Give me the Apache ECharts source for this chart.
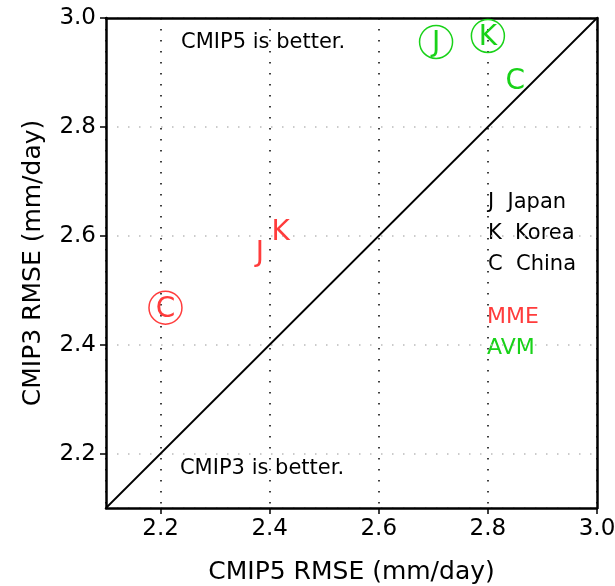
<!DOCTYPE html>
<html>
<head>
<meta charset="utf-8">
<script src="https://cdn.jsdelivr.net/npm/echarts@6/dist/echarts.min.js"></script>
<style>
  html, body { margin: 0; padding: 0; background: #fff; }
  #chart { width: 615px; height: 586px; }
</style>
</head>
<body>
<div id="chart"></div>
<script>
  // letters: J Japan, K Korea, C China
  var letters = ['J', 'K', 'C'];
  // MME (red): [CMIP5, CMIP3]
  var mmeX = [2.382, 2.42, 2.209];
  var mmeY = [2.571, 2.609, 2.468];
  var mmeCircled = [false, false, true];
  // AVM (green)
  var avmX = [2.705, 2.80, 2.85];
  var avmY = [2.956, 2.967, 2.886];
  var avmCircled = [true, true, false];
  // one-to-one line
  var diagonal = [[2.1, 2.1], [3.0, 3.0]];
  var legendRows = ['J  Japan', 'K  Korea', 'C  China'];

  var RED = '#ff3c3c', GREEN = '#19d219';
  var FONT = 'DejaVu Sans';

  function points(xs, ys, circled, color) {
    return xs.map(function (x, i) {
      return {
        value: [x, ys[i], letters[i]],
        symbolSize: circled[i] ? 33 : 0,
        itemStyle: {color: 'rgba(0,0,0,0)', borderColor: color, borderWidth: circled[i] ? 1.5 : 0, opacity: 1}
      };
    });
  }

  function markerSeries(name, xs, ys, circled, color) {
    return {
      name: name,
      type: 'scatter',
      symbol: 'circle',
      data: points(xs, ys, circled, color),
      itemStyle: {opacity: 1},
      label: {
        show: true,
        position: 'inside',
        offset: [0, 2],
        formatter: function (p) { return p.value[2]; },
        color: color,
        fontFamily: FONT,
        fontSize: 28
      },
      z: 5
    };
  }

  function noteSeries(text, x, y) {
    return {
      type: 'scatter',
      symbolSize: 0,
      data: [[x, y]],
      itemStyle: {opacity: 1},
      label: {
        show: true,
        position: 'inside',
        formatter: text,
        color: '#000',
        fontFamily: FONT,
        fontSize: 21
      },
      silent: true
    };
  }

  // plain frame axes for top / right
  function frameAxis(pos) {
    return {
      type: 'value', position: pos, min: 2.1, max: 3.0,
      axisLine: {show: true, lineStyle: {color: '#000', width: 2.5}},
      axisTick: {show: false}, axisLabel: {show: false}, splitLine: {show: false}
    };
  }

  var tickLabel = {
    showMinLabel: false,
    margin: 10,
    fontFamily: FONT, fontSize: 23, color: '#000',
    formatter: function (v) { return v.toFixed(1); }
  };

  var chart = echarts.init(document.getElementById('chart'));
  chart.setOption({
    animation: false,
    backgroundColor: '#fff',
    grid: {left: 106, right: 18, top: 18, bottom: 78, outerBoundsMode: 'none'},
    xAxis: [{
      type: 'value',
      min: 2.1,
      max: 3.0,
      splitNumber: 5,
      name: 'CMIP5 RMSE (mm/day)',
      nameLocation: 'middle',
      nameGap: 52,
      nameTextStyle: {fontFamily: FONT, fontSize: 25, color: '#000'},
      axisLine: {onZero: false, lineStyle: {color: '#000', width: 2.5}},
      axisTick: {length: 6, lineStyle: {color: '#000', width: 1.5}},
      axisLabel: tickLabel,
      splitLine: {show: true, lineStyle: {color: '#000', width: 1.5, type: [1.5, 9.5]}}
    }, frameAxis('top')],
    yAxis: [{
      type: 'value',
      min: 2.1,
      max: 3.0,
      splitNumber: 5,
      name: 'CMIP3 RMSE (mm/day)',
      nameLocation: 'middle',
      nameGap: 60,
      nameTextStyle: {fontFamily: FONT, fontSize: 25, color: '#000'},
      axisLine: {onZero: false, lineStyle: {color: '#000', width: 2.5}},
      axisTick: {length: 6, lineStyle: {color: '#000', width: 1.5}},
      axisLabel: tickLabel,
      splitLine: {show: true, lineStyle: {color: '#bbb', width: 1.5, type: [1.5, 9.5]}}
    }, frameAxis('right')],
    graphic: legendRows.map(function (t, i) {
      return {
        type: 'text', left: 488, top: 192 + i * 31,
        style: {text: t, fill: '#000', font: '21px "DejaVu Sans"'}
      };
    }).concat([
      {type: 'text', left: 487, top: 306, style: {text: 'MME', fill: RED, font: '22px "DejaVu Sans"'}},
      {type: 'text', left: 487, top: 337, style: {text: 'AVM', fill: GREEN, font: '22px "DejaVu Sans"'}}
    ]),
    series: [
      {
        type: 'line',
        data: diagonal,
        symbol: 'none',
        lineStyle: {color: '#000', width: 1.8},
        silent: true
      },
      noteSeries('CMIP5 is better.', 2.388, 2.954),
      noteSeries('CMIP3 is better.', 2.386, 2.172),
      markerSeries('MME', mmeX, mmeY, mmeCircled, RED),
      markerSeries('AVM', avmX, avmY, avmCircled, GREEN)
    ]
  });
</script>
</body>
</html>
